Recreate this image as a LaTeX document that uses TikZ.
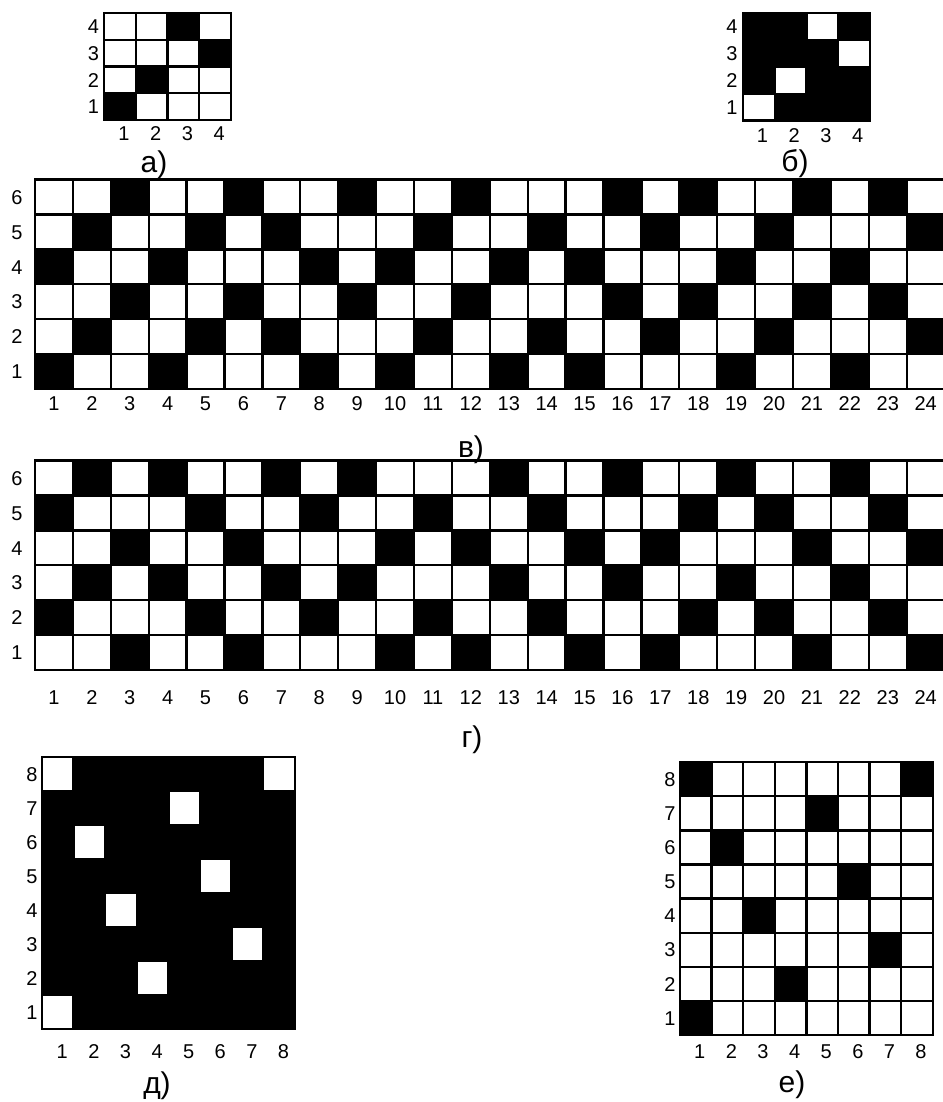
\documentclass[tikz,border=0pt]{standalone}
\usepackage{fontspec}
\setmainfont{Liberation Sans}
\usepackage{tikz}
\usetikzlibrary{positioning}

\begin{document}
\begin{tikzpicture}[
    x=0.5pt, y=-0.5pt,
    cellgrid/.style={draw=black, line width=1.15pt},
    dark/.style={fill=black},
    light/.style={fill=white},
    rowlab/.style={font=\fontsize{10}{12}\selectfont, inner sep=0pt, anchor=east,
                   text height=7.2pt, text depth=0pt},
    collab/.style={font=\fontsize{10}{12}\selectfont, inner sep=0pt,
                   text height=7.2pt, text depth=0pt},
    capt/.style={font=\fontsize{15}{18}\selectfont, inner sep=0pt}
]
\useasboundingbox (0,0) rectangle (942,1102);

\begin{scope}[shift={(104,120)}, x=15.875pt, y=13.35pt]
  \foreach \c/\r in {1/1,2/2,4/3,3/4}
    \fill[dark] (\c-1,\r-1) rectangle (\c,\r);
  \draw[cellgrid, step=1] (0,0) grid (4,4);
  \draw[cellgrid] (0,0) rectangle (4,4);
  \foreach \i in {1,...,4} {
    \node[rowlab, xshift=-2.35pt] (a-r\i) at (0,\i-0.5) {\i};
    \node[collab, xshift=2pt, yshift=-6.9pt] (a-c\i) at (\i-0.5,0) {\i};
  }
\end{scope}

\begin{scope}[shift={(743,120.5)}, x=15.875pt, y=13.4pt]
  \fill[dark] (0,0) rectangle (4,4);
  \foreach \c/\r in {1/1,2/2,4/3,3/4}
    \fill[light] (\c-1,\r-1) rectangle (\c,\r);
  \draw[cellgrid, step=1] (0,0) grid (4,4);
  \draw[cellgrid] (0,0) rectangle (4,4);
  \foreach \i in {1,...,4} {
    \node[rowlab, xshift=-2.5pt] (b-r\i) at (0,\i-0.5) {\i};
    \node[collab, xshift=1.75pt, yshift=-7.2pt] (b-c\i) at (\i-0.5,0) {\i};
  }
\end{scope}

\node[capt] (capa) at (154,165) {а)};
\node[capt] (capb) at (795,164) {б)};

\begin{scope}[shift={(35,389)}, x=18.95pt, y=17.45pt]
  \foreach \r/\cols in {1/{1,4,8,10,13,15,19,22}, 2/{2,5,7,11,14,17,20,24}, 3/{3,6,9,12,16,18,21,23}}
    \foreach \c in \cols {
      \fill[dark] (\c-1,\r-1) rectangle (\c,\r);
      \fill[dark] (\c-1,\r+2) rectangle (\c,\r+3);
    }
  \draw[cellgrid, step=1] (0,0) grid (24,6);
  \draw[cellgrid] (0,0) rectangle (24,6);
  \foreach \i in {1,...,6}
    \node[rowlab, xshift=-6pt] (v-r\i) at (0,\i-0.5) {\i};
  \foreach \i in {1,...,24}
    \node[collab, yshift=-6.9pt] (v-c\i) at (\i-0.5,0) {\i};
\end{scope}

\node[capt] (capv) at (471,450) {в)};

\begin{scope}[shift={(35,670)}, x=18.95pt, y=17.45pt]
  \foreach \r/\cols in {1/{3,6,10,12,15,17,21,24}, 2/{1,5,8,11,14,18,20,23}, 3/{2,4,7,9,13,16,19,22}}
    \foreach \c in \cols {
      \fill[dark] (\c-1,\r-1) rectangle (\c,\r);
      \fill[dark] (\c-1,\r+2) rectangle (\c,\r+3);
    }
  \draw[cellgrid, step=1] (0,0) grid (24,6);
  \draw[cellgrid] (0,0) rectangle (24,6);
  \foreach \i in {1,...,6}
    \node[rowlab, xshift=-6pt] (g-r\i) at (0,\i-0.5) {\i};
  \foreach \i in {1,...,24}
    \node[collab, yshift=-13.75pt] (g-c\i) at (\i-0.5,0) {\i};
\end{scope}

\node[capt] (capg) at (472,740) {г)};

\begin{scope}[shift={(42,1029)}, x=15.8pt, y=17pt]
  \fill[dark] (0,0) rectangle (8,8);
  \foreach \c/\r in {1/1,4/2,7/3,3/4,6/5,2/6,5/7,1/8,8/8}
    \fill[light] (\c-1,\r-1) rectangle (\c,\r);
  \draw[cellgrid, step=1] (0,0) grid (8,8);
  \draw[cellgrid] (0,0) rectangle (8,8);
  \foreach \i in {1,...,8} {
    \node[rowlab, xshift=-2pt] (d-r\i) at (0,\i-0.5) {\i};
    \node[collab, xshift=2.25pt, yshift=-11pt] (d-c\i) at (\i-0.5,0) {\i};
  }
\end{scope}

\begin{scope}[shift={(680,1035)}, x=15.8pt, y=17.05pt]
  \foreach \c/\r in {1/1,4/2,7/3,3/4,6/5,2/6,5/7,1/8,8/8}
    \fill[dark] (\c-1,\r-1) rectangle (\c,\r);
  \draw[cellgrid, step=1] (0,0) grid (8,8);
  \draw[cellgrid] (0,0) rectangle (8,8);
  \foreach \i in {1,...,8} {
    \node[rowlab, xshift=-2pt] (e-r\i) at (0,\i-0.5) {\i};
    \node[collab, xshift=2pt, yshift=-8pt] (e-c\i) at (\i-0.5,0) {\i};
  }
\end{scope}

\node[capt] (capd) at (157,1086) {д)};
\node[capt] (cape) at (792,1085) {е)};
\end{tikzpicture}
\end{document}
